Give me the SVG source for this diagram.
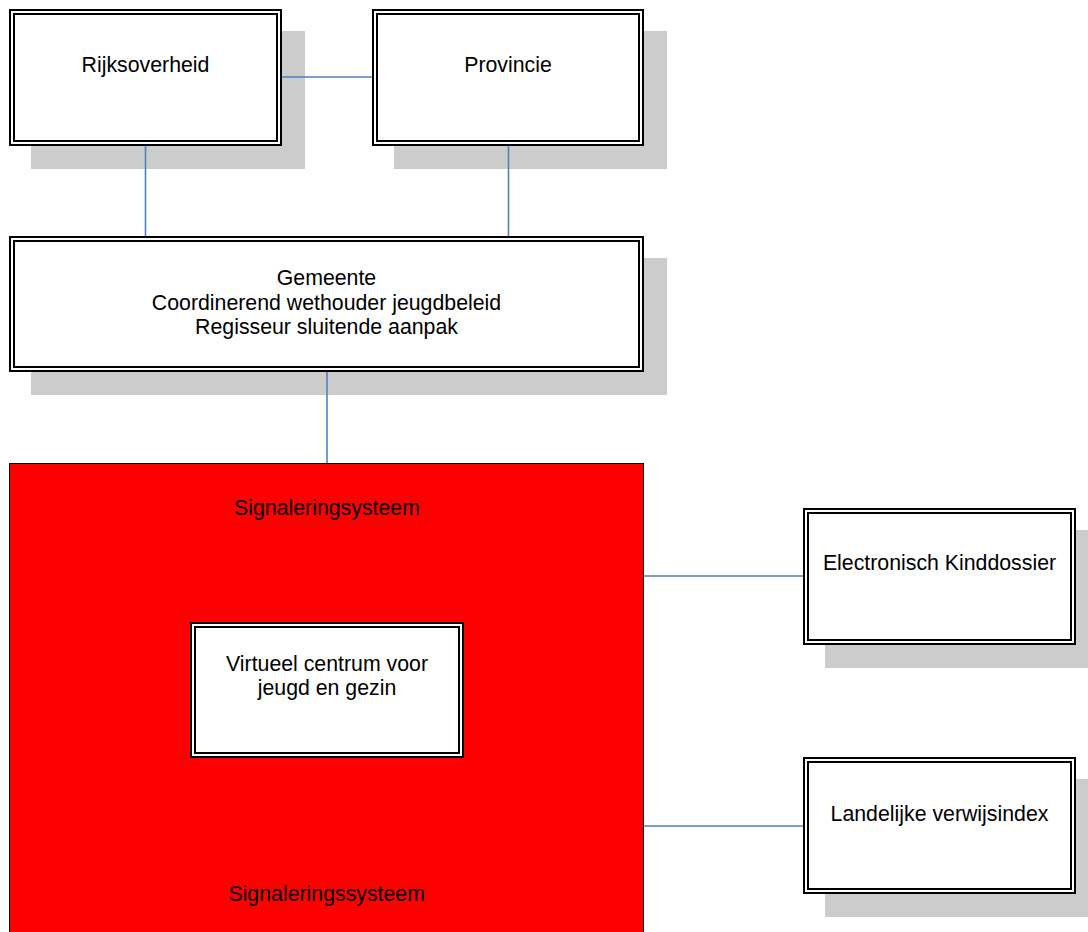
<svg xmlns="http://www.w3.org/2000/svg" width="1088" height="932" viewBox="0 0 1088 932">
<style>
.shadow{fill:#cccccc;stroke:none}
.outer{fill:#ffffff;stroke:#000000;stroke-width:2}
.inner{fill:none;stroke:#000000;stroke-width:2}
.lbl{font-family:"Liberation Sans",Arial,sans-serif;font-size:21.3px;fill:#000000;text-anchor:middle}
.conn{stroke:#4f81bd;stroke-width:1.6;fill:none}
</style>
<rect width="1088" height="932" fill="#ffffff"/>
<g id="rijksoverheid">
<rect class="shadow" x="31" y="31" width="274" height="138"/>
<rect class="outer" x="10" y="10" width="271" height="135"/>
<rect class="inner" x="14" y="14" width="263" height="127"/>
<text class="lbl" x="145.5" y="71.5">Rijksoverheid</text>
</g>
<g id="provincie">
<rect class="shadow" x="394" y="31" width="273" height="138"/>
<rect class="outer" x="373" y="10" width="270" height="135"/>
<rect class="inner" x="377" y="14" width="262" height="127"/>
<text class="lbl" x="508" y="71.5">Provincie</text>
</g>
<g id="gemeente">
<rect class="shadow" x="31" y="258" width="636" height="137"/>
<rect class="outer" x="10" y="237" width="633" height="134"/>
<rect class="inner" x="14" y="241" width="625" height="126"/>
<text class="lbl" x="326.5" y="285">Gemeente</text>
<text class="lbl" x="326.5" y="309.5">Coordinerend wethouder jeugdbeleid</text>
<text class="lbl" x="326.5" y="334">Regisseur sluitende aanpak</text>
</g>
<g id="signaleringsysteem">
<rect x="9.5" y="463.5" width="634" height="480" fill="#ff0000" stroke="#000000" stroke-width="1"/>
<text class="lbl" x="327" y="515">Signaleringsysteem</text>
<text class="lbl" x="326.7" y="900.5">Signaleringssysteem</text>
</g>
<g id="virtueel-centrum">
<rect class="outer" x="191" y="623" width="272" height="134"/>
<rect class="inner" x="195" y="627" width="264" height="126"/>
<text class="lbl" x="327" y="670.5">Virtueel centrum voor</text>
<text class="lbl" x="327" y="694.5">jeugd en gezin</text>
</g>
<g id="electronisch-kinddossier">
<rect class="shadow" x="825" y="530" width="274" height="138"/>
<rect class="outer" x="804" y="509" width="271" height="135"/>
<rect class="inner" x="808" y="513" width="263" height="127"/>
<text class="lbl" x="939.5" y="570">Electronisch Kinddossier</text>
</g>
<g id="landelijke-verwijsindex">
<rect class="shadow" x="825" y="779" width="274" height="138"/>
<rect class="outer" x="804" y="758" width="271" height="135"/>
<rect class="inner" x="808" y="762" width="263" height="127"/>
<text class="lbl" x="939.5" y="820.5">Landelijke verwijsindex</text>
</g>
<g id="connectors">
<path class="conn" d="M282 77H372"/>
<path class="conn" d="M145.5 146V236"/>
<path class="conn" d="M508.5 146V236"/>
<path class="conn" d="M327 372V463"/>
<path class="conn" d="M644 576H803"/>
<path class="conn" d="M644 826H803"/>
</g>
</svg>
